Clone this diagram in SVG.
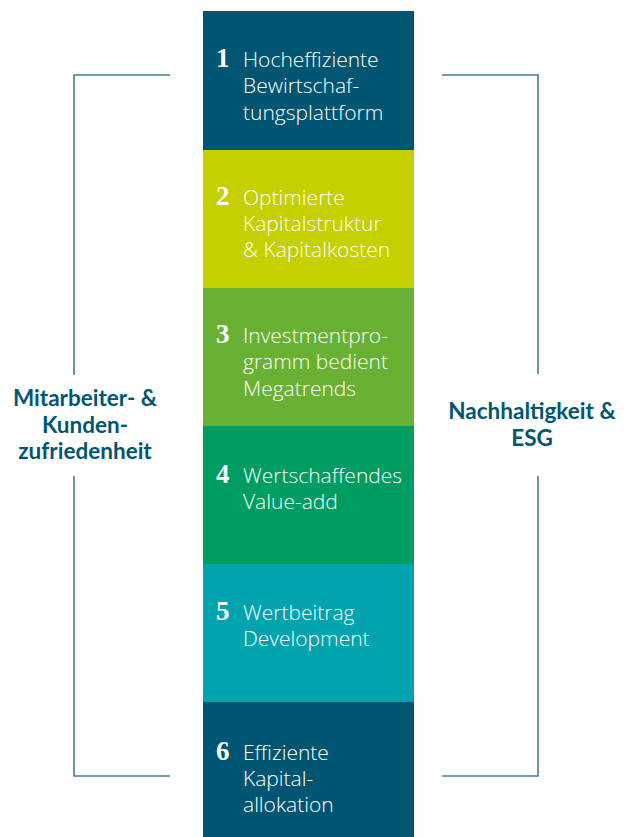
<svg xmlns="http://www.w3.org/2000/svg" width="627" height="837" viewBox="0 0 627 837">
<style>
.num{font-family:"Liberation Serif","DejaVu Serif",serif;font-weight:bold;font-size:27px;fill:#ffffff}
.txt{font-family:"Open Sans","Noto Sans",sans-serif;font-weight:300;font-size:21px;fill:#ffffff}
.lbl{font-family:Lato,"Open Sans",sans-serif;font-weight:bold;font-size:22.5px;fill:#005672;text-anchor:middle}
.br{fill:none;stroke:#3f7f98;stroke-width:1.6}
</style>
<rect width="627" height="837" fill="#ffffff"/>
<g id="connectors">
<path class="br" d="M170,75 H74 V375"/>
<path class="br" d="M74,476 V776 H170"/>
<path class="br" d="M442,75 H538 V374"/>
<path class="br" d="M538,476 V776 H442"/>
</g>
<g id="step1">
<rect x="203" y="11" width="211" height="139" fill="#005672"/>
<text class="num" x="216" y="67">1</text>
<text class="txt"><tspan x="243" y="67">Hocheffiziente</tspan><tspan x="243" y="93">Bewirtschaf-</tspan><tspan x="243" y="120">tungsplattform</tspan></text>
</g>
<g id="step2">
<rect x="203" y="150" width="211" height="138" fill="#c4d000"/>
<text class="num" x="216" y="205">2</text>
<text class="txt"><tspan x="243" y="205">Optimierte</tspan><tspan x="243" y="231">Kapitalstruktur</tspan><tspan x="243" y="257">&amp; Kapitalkosten</tspan></text>
</g>
<g id="step3">
<rect x="203" y="288" width="211" height="138" fill="#69b133"/>
<text class="num" x="216" y="343">3</text>
<text class="txt"><tspan x="243" y="343">Investmentpro-</tspan><tspan x="243" y="369">gramm bedient</tspan><tspan x="243" y="396">Megatrends</tspan></text>
</g>
<g id="step4">
<rect x="203" y="426" width="211" height="138" fill="#009d62"/>
<text class="num" x="216" y="483">4</text>
<text class="txt"><tspan x="243" y="483">Wertschaffendes</tspan><tspan x="243" y="509">Value-add</tspan></text>
</g>
<g id="step5">
<rect x="203" y="564" width="211" height="138" fill="#00a3ae"/>
<text class="num" x="216" y="620">5</text>
<text class="txt"><tspan x="243" y="620">Wertbeitrag</tspan><tspan x="243" y="646">Development</tspan></text>
</g>
<g id="step6">
<rect x="203" y="702" width="211" height="135" fill="#005672"/>
<text class="num" x="216" y="760">6</text>
<text class="txt"><tspan x="243" y="760">Effiziente</tspan><tspan x="243" y="786">Kapital-</tspan><tspan x="243" y="812">allokation</tspan></text>
</g>
<g id="label-left">
<text class="lbl"><tspan x="85" y="406">Mitarbeiter- &amp;</tspan><tspan x="85" y="433">Kunden-</tspan><tspan x="85" y="459">zufriedenheit</tspan></text>
</g>
<g id="label-right">
<text class="lbl"><tspan x="532" y="419">Nachhaltigkeit &amp;</tspan><tspan x="532" y="446">ESG</tspan></text>
</g>
</svg>
